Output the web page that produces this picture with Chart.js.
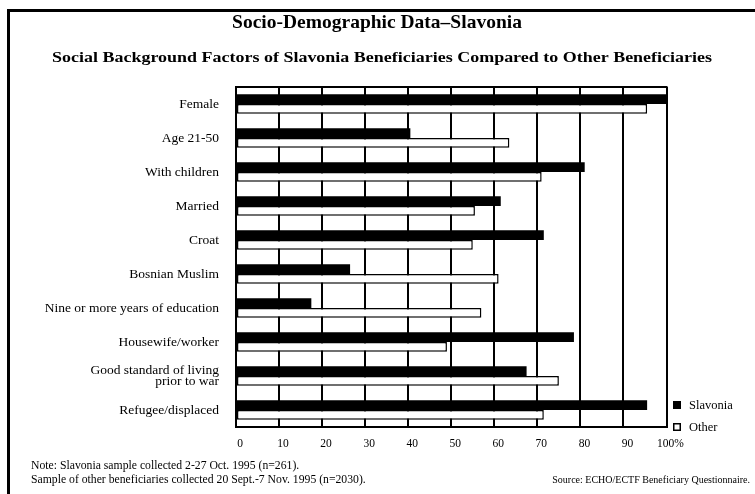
<!DOCTYPE html>
<html>
<head>
<meta charset="utf-8">
<script src="https://cdn.jsdelivr.net/npm/chart.js@4.4.1/dist/chart.umd.min.js"></script>
<style>
html, body { margin: 0; padding: 0; background: #fff; }
</style>
</head>
<body>
<canvas id="myChart" width="755" height="494"></canvas>
<script>
const categories = [
    'Female', 'Age 21-50', 'With children', 'Married', 'Croat', 'Bosnian Muslim',
    'Nine or more years of education', 'Housewife/worker',
    ['Good standard of living', 'prior to war'], 'Refugee/displaced'
];
const slavonia = [100, 40.5, 81, 61.5, 71.5, 26.5, 17.5, 78.5, 67.5, 95.5];
const other = [95.5, 63.5, 71, 55.5, 55, 61, 57, 49, 75, 71.5];
const tickLabels = ['0', '10', '20', '30', '40', '50', '60', '70', '80', '90', '100%'];

const title = 'Socio-Demographic Data\u2013Slavonia';
const subtitle = 'Social Background Factors of Slavonia Beneficiaries Compared to Other Beneficiaries';
const notes = [
    'Note: Slavonia sample collected 2-27 Oct. 1995 (n=261).',
    'Sample of other beneficiaries collected 20 Sept.-7 Nov. 1995 (n=2030).'
];
const source = 'Source: ECHO/ECTF Beneficiary Questionnaire.';

const serif = '"Liberation Serif", serif';

// pick a font size so the text spans the given width
function fitFont(ctx, text, weight, width) {
    ctx.font = weight + ' 100px ' + serif;
    const size = 100 * width / ctx.measureText(text).width;
    return weight + ' ' + size.toFixed(2) + 'px ' + serif;
}

// draw text at a fixed font size, stretched sideways to a given width
function stretchText(ctx, text, font, cx, cy, width) {
    ctx.font = font;
    const sx = width / ctx.measureText(text).width;
    ctx.save();
    ctx.translate(cx, cy);
    ctx.scale(sx, 1);
    ctx.fillText(text, 0, 0);
    ctx.restore();
}

// frame, titles, legend and notes
const decor = {
    id: 'decor',
    afterDraw(chart) {
        const ctx = chart.ctx;
        const a = chart.chartArea;
        ctx.save();
        ctx.fillStyle = '#000';
        ctx.fillRect(7, 9, 748, 3);
        ctx.fillRect(7, 9, 3, 485);
        ctx.fillRect(a.left - 1, a.top - 1, a.right - a.left + 2, 2);

        ctx.textAlign = 'center';
        ctx.textBaseline = 'middle';
        ctx.font = fitFont(ctx, title, 'bold', 290);
        ctx.fillText(title, 377, 23);
        stretchText(ctx, subtitle, 'bold 15.5px ' + serif, 382, 58, 660);

        // legend
        ctx.textAlign = 'left';
        ctx.font = '12.5px ' + serif;
        chart.data.datasets.forEach((ds, i) => {
            const y = 405 + i * 22;
            ctx.fillStyle = ds.backgroundColor;
            ctx.fillRect(673, y - 4, 8, 8);
            ctx.strokeStyle = '#000';
            ctx.lineWidth = 1.5;
            ctx.strokeRect(673.75, y - 3.25, 6.5, 6.5);
            ctx.fillStyle = '#000';
            ctx.fillText(ds.label, 689, y + 1);
        });

        // notes
        ctx.font = fitFont(ctx, notes[1], 'normal', 335);
        ctx.fillText(notes[0], 31, 466);
        ctx.fillText(notes[1], 31, 480);
        ctx.textAlign = 'right';
        ctx.font = fitFont(ctx, source, 'normal', 198);
        ctx.fillText(source, 750, 480);
        ctx.restore();
    }
};

const config = {
    type: 'bar',
    data: {
        labels: categories,
        datasets: [{
            label: 'Slavonia',
            data: slavonia,
            backgroundColor: '#000',
            borderWidth: 0,
            barPercentage: 1.0,
            categoryPercentage: 0.58
        }, {
            label: 'Other',
            data: other,
            backgroundColor: '#fff',
            borderColor: '#000',
            borderWidth: 1.5,
            borderSkipped: false,
            barPercentage: 1.0,
            categoryPercentage: 0.58
        }]
    },
    options: {
        indexAxis: 'y',
        responsive: false,
        animation: false,
        devicePixelRatio: 1,
        layout: {
            padding: { top: 87, right: 88.5, bottom: 37, left: 0 }
        },
        plugins: {
            legend: { display: false },
            tooltip: { enabled: false }
        },
        scales: {
            x: {
                min: 0,
                max: 100,
                ticks: {
                    stepSize: 10,
                    color: '#000',
                    font: { family: serif, size: 11.5 },
                    padding: 10,
                    labelOffset: 4,
                    maxRotation: 0,
                    callback: (v, i) => tickLabels[i]
                },
                grid: { color: '#000', lineWidth: 2, drawTicks: false },
                border: { color: '#000', width: 2 },
                afterFit: (scale) => { scale.height = 30; }
            },
            y: {
                ticks: {
                    color: '#000',
                    font: { family: serif, size: 13.5, lineHeight: 0.85 },
                    padding: 17,
                    autoSkip: false
                },
                grid: { display: false, drawTicks: false },
                border: { color: '#000', width: 2 },
                afterFit: (scale) => { scale.width = 236; }
            }
        }
    },
    plugins: [decor]
};

// Render the chart
const myChart = new Chart(document.getElementById('myChart'), config);
</script>
</body>
</html>
